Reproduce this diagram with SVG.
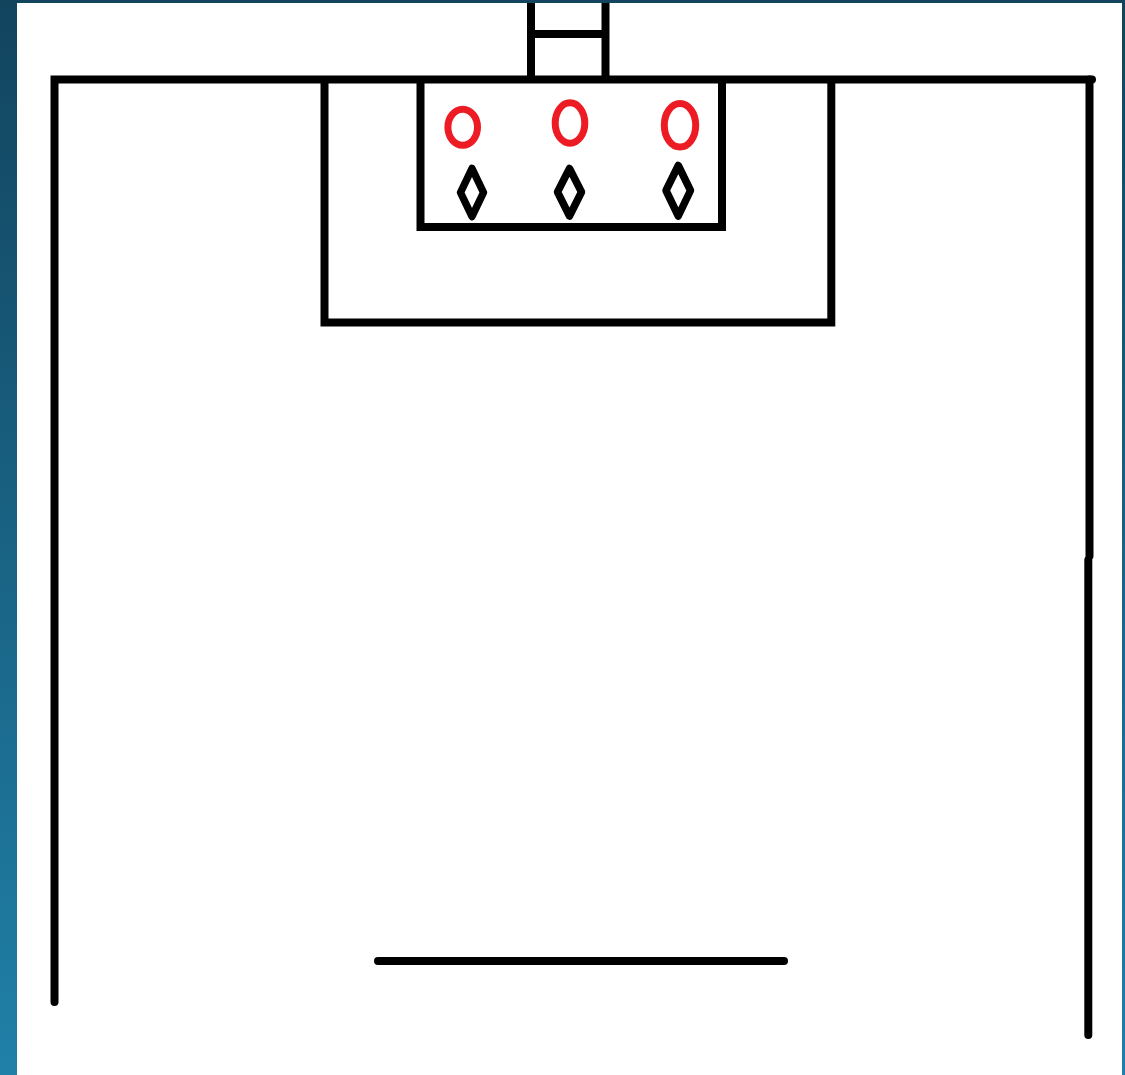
<svg xmlns="http://www.w3.org/2000/svg" width="1125" height="1075" viewBox="0 0 1125 1075">
  <defs>
    <linearGradient id="bg" x1="0" y1="0" x2="0" y2="1">
      <stop offset="0" stop-color="#12445e"/>
      <stop offset="1" stop-color="#2080a8"/>
    </linearGradient>
    <style>
      .ln { stroke: #000; stroke-width: 8; fill: none; stroke-linecap: round; stroke-linejoin: miter; }
      .box { stroke: #000; stroke-width: 8; fill: none; stroke-linecap: butt; }
      .player { stroke: #ed1c24; stroke-width: 7; fill: none; }
      .cone { stroke: #000; stroke-width: 7.5; fill: none; stroke-linejoin: round; }
    </style>
  </defs>
  <rect x="0" y="0" width="1125" height="1075" fill="url(#bg)"/>
  <rect x="17" y="3" width="1105" height="1072" fill="#fff"/>

  <g id="goal">
    <line class="box" x1="531" y1="3" x2="531" y2="79"/>
    <line class="box" x1="605.5" y1="3" x2="605.5" y2="79"/>
    <line class="box" x1="531" y1="34" x2="605.5" y2="34"/>
  </g>

  <g id="boundary">
    <path class="ln" d="M54.5,1002 L54.5,79.5 L1092,79.5"/>
    <line class="ln" x1="1089.5" y1="79.5" x2="1089.5" y2="556" stroke-linecap="butt"/>
    <line class="ln" x1="1088.3" y1="560" x2="1088.3" y2="1035"/>
  </g>

  <g id="penalty-area">
    <path class="box" d="M324.5,79.5 L324.5,322.5 L831.3,322.5 L831.3,79.5"/>
  </g>

  <g id="goal-area">
    <path class="box" d="M420.5,79.5 L420.5,227 L722,227 L722,79.5"/>
  </g>

  <g id="players">
    <ellipse class="player" cx="462.7" cy="127.3" rx="14.8" ry="18"/>
    <ellipse class="player" cx="570" cy="123" rx="14.8" ry="20.2"/>
    <ellipse class="player" cx="680" cy="125.3" rx="15.7" ry="21.8"/>
  </g>

  <g id="cones">
    <path class="cone" d="M472,168.5 L483.5,192.5 L472,216.5 L460.5,192.5 Z"/>
    <path class="cone" d="M569.5,168.5 L581.5,192 L569.5,216 L557.5,192 Z"/>
    <path class="cone" d="M678.3,165.5 L690.5,190.5 L678.3,216 L666,190.5 Z"/>
  </g>

  <g id="line-bottom">
    <line class="ln" x1="378" y1="961" x2="784" y2="961"/>
  </g>
</svg>
